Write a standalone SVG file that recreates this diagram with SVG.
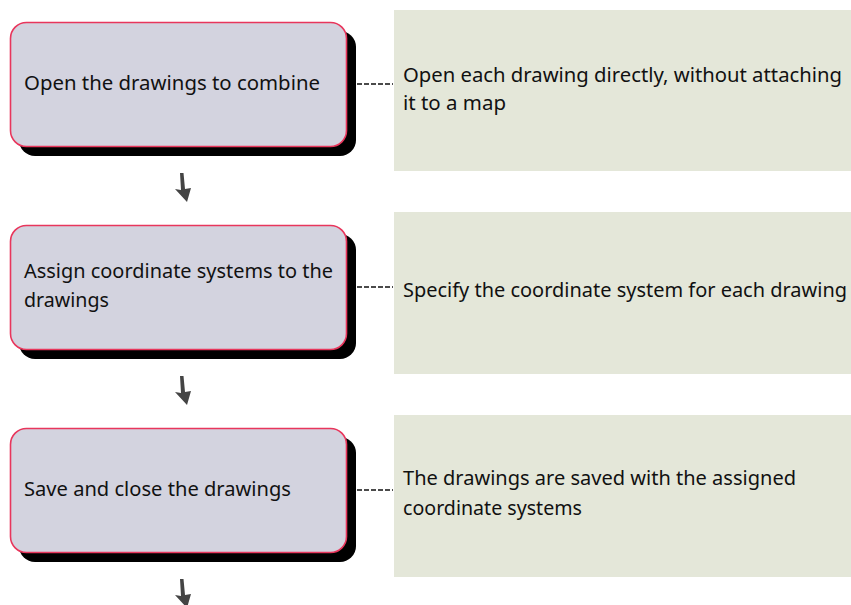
<svg xmlns="http://www.w3.org/2000/svg" width="851" height="605" viewBox="0 0 851 605">
  <style>
    .shadow { fill: #000; }
    .step { fill: #d3d3df; stroke: #e8365c; stroke-width: 1.6; }
    .note { fill: #e4e7d9; }
    .label { font-family: "Noto Sans", "Open Sans", sans-serif; font-size: 20px; fill: #111; }
    .link { stroke: #111; stroke-width: 1.5; stroke-dasharray: 5 2; fill: none; }
    .flow { fill: #444; }
  </style>
  <defs>
    <!-- small tilted down-arrow between steps -->
    <path id="down" d="M-2,-16 L1.5,-16 L3,0 L9,-1 L5,13 L-7,0 L-1,1 Z"/>
  </defs>

  <g id="connectors">
    <line class="link" x1="357" y1="84" x2="393" y2="84"/>
    <line class="link" x1="357" y1="287" x2="393" y2="287"/>
    <line class="link" x1="357" y1="490" x2="393" y2="490"/>
    <use href="#down" class="flow" x="182" y="189"/>
    <use href="#down" class="flow" x="182" y="392"/>
    <use href="#down" class="flow" x="182" y="595"/>
  </g>

  <g id="step1">
    <rect class="shadow" x="19" y="31" width="337" height="125" rx="16"/>
    <rect class="step" x="10.5" y="22.5" width="336" height="124" rx="16"/>
    <text class="label" x="24" y="90" textLength="296" lengthAdjust="spacingAndGlyphs">Open the drawings to combine</text>
  </g>
  <g id="note1">
    <rect class="note" x="394" y="10" width="457" height="161"/>
    <text class="label" x="403" y="82" textLength="439" lengthAdjust="spacingAndGlyphs">Open each drawing directly, without attaching</text>
    <text class="label" x="403" y="110" textLength="103" lengthAdjust="spacingAndGlyphs">it to a map</text>
  </g>

  <g id="step2">
    <rect class="shadow" x="19" y="234" width="337" height="125" rx="16"/>
    <rect class="step" x="10.5" y="225.5" width="336" height="124" rx="16"/>
    <text class="label" x="24" y="278" textLength="309" lengthAdjust="spacingAndGlyphs">Assign coordinate systems to the</text>
    <text class="label" x="24" y="307" textLength="85" lengthAdjust="spacingAndGlyphs">drawings</text>
  </g>
  <g id="note2">
    <rect class="note" x="394" y="212" width="457" height="162"/>
    <text class="label" x="403" y="297" textLength="444" lengthAdjust="spacingAndGlyphs">Specify the coordinate system for each drawing</text>
  </g>

  <g id="step3">
    <rect class="shadow" x="19" y="437" width="337" height="125" rx="16"/>
    <rect class="step" x="10.5" y="428.5" width="336" height="124" rx="16"/>
    <text class="label" x="24" y="496" textLength="267" lengthAdjust="spacingAndGlyphs">Save and close the drawings</text>
  </g>
  <g id="note3">
    <rect class="note" x="394" y="415" width="457" height="162"/>
    <text class="label" x="403" y="485" textLength="393" lengthAdjust="spacingAndGlyphs">The drawings are saved with the assigned</text>
    <text class="label" x="403" y="515" textLength="179" lengthAdjust="spacingAndGlyphs">coordinate systems</text>
  </g>
</svg>
